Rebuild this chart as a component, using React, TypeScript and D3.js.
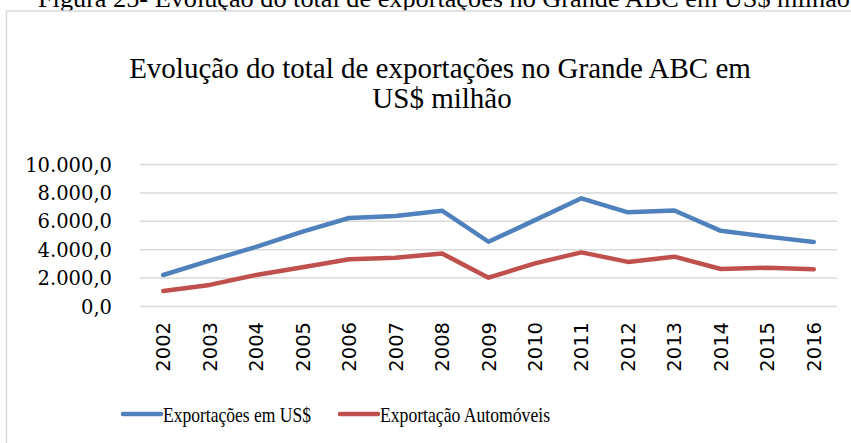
import React from "react";
import * as d3 from "d3";

const years = ["2002","2003","2004","2005","2006","2007","2008","2009","2010","2011","2012","2013","2014","2015","2016"];
const exportacoes = [2220, 3230, 4200, 5270, 6230, 6380, 6750, 4560, 6080, 7620, 6630, 6760, 5330, 4920, 4540];
const automoveis = [1090, 1520, 2220, 2770, 3330, 3440, 3740, 2030, 3040, 3810, 3140, 3510, 2640, 2730, 2620];
const yTicks = [0, 2000, 4000, 6000, 8000, 10000];
const seriesNames = ["Exportações em US$", "Exportação Automóveis"];
const seriesColors = ["#4F81BD", "#C0504D"];

const fmt = (v: number) => {
  const s = v.toFixed(1).replace(".", ",");
  const [i, d] = s.split(",");
  return i.replace(/\B(?=(\d{3})+(?!\d))/g, ".") + "," + d;
};

export default function App() {
  const W = 851, H = 443;
  const x = d3.scaleBand<string>().domain(years).range([140, 837]);
  const y = d3.scaleLinear().domain([0, 10000]).range([306.5, 164.5]);
  const cx = (yr: string) => (x(yr) as number) + x.bandwidth() / 2;
  const line = d3.line<number>().x((_, i) => cx(years[i])).y((d) => y(d));
  const serif = "Liberation Serif, Times New Roman, serif";
  const tickSerif = "DejaVu Serif, serif";
  const series = [exportacoes, automoveis];
  const legendX = [123, 340];
  const legendLen = [148, 170];
  return (
    <svg width={W} height={H} style={{ position: "absolute", left: 0, top: 0, background: "#fff" }}>
      <rect x={0} y={0} width={W} height={H} fill="#fff" />
      <text x={38} y={7} fontFamily={serif} fontSize={25} fill="#000" textLength={812} lengthAdjust="spacingAndGlyphs">
        Figura 25- Evolução do total de exportações no Grande ABC em US$ milhão
      </text>
      <rect x={6.5} y={11} width={1000} height={600} fill="#fff" stroke="#d9d9d9" strokeWidth={1.5} />
      <text x={440} y={78} textAnchor="middle" fontFamily={serif} fontSize={29} fill="#000">
        Evolução do total de exportações no Grande ABC em
      </text>
      <text x={442} y={108} textAnchor="middle" fontFamily={serif} fontSize={29} fill="#000">
        US$ milhão
      </text>
      {yTicks.map((t) => (
        <g key={t}>
          <line x1={140} x2={837} y1={y(t)} y2={y(t)} stroke="#d9d9d9" strokeWidth={1.5} />
          <text x={112} y={y(t)} dy="0.36em" textAnchor="end" fontFamily={tickSerif} fontSize={19.5} fill="#000">
            {fmt(t)}
          </text>
        </g>
      ))}
      {years.map((yr) => (
        <text
          key={yr}
          transform={`translate(${cx(yr) + 7},322) rotate(-90)`}
          textAnchor="end"
          fontFamily="DejaVu Sans, sans-serif"
          fontSize={19.5}
          fill="#000"
        >
          {yr}
        </text>
      ))}
      {series.map((s, i) => (
        <path key={i} d={line(s) as string} fill="none" stroke={seriesColors[i]} strokeWidth={4.5} strokeLinecap="round" strokeLinejoin="round" />
      ))}
      {seriesNames.map((n, i) => (
        <g key={n}>
          <line x1={legendX[i]} x2={legendX[i] + 38} y1={414} y2={414} stroke={seriesColors[i]} strokeWidth={4.5} strokeLinecap="round" />
          <text x={legendX[i] + 40} y={414} dy="0.36em" fontFamily={serif} fontSize={21} fill="#000" textLength={legendLen[i]} lengthAdjust="spacingAndGlyphs">
            {n}
          </text>
        </g>
      ))}
    </svg>
  );
}
